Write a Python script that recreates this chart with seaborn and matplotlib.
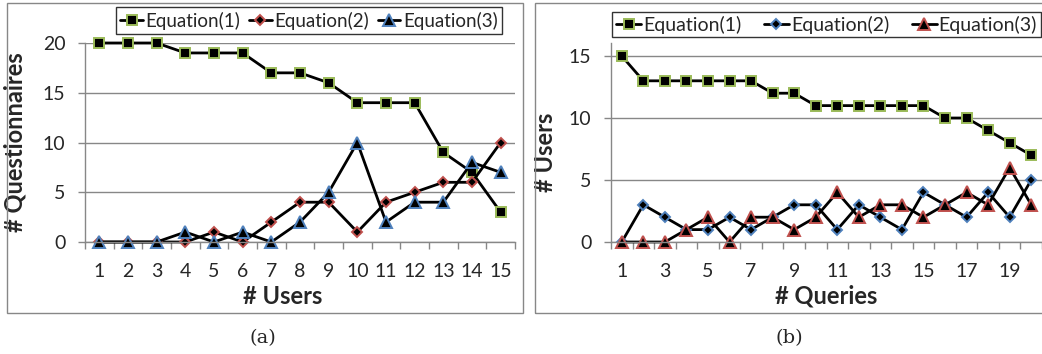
"""Two-panel line chart: questionnaires per user and users per query"""
import matplotlib
matplotlib.use("Agg")
import matplotlib.pyplot as plt
import seaborn as sns
from matplotlib.patches import Rectangle
from matplotlib.ticker import FixedLocator, NullFormatter

# panel (a)
users = list(range(1, 16))
a_eq1 = [20, 20, 20, 19, 19, 19, 17, 17, 16, 14, 14, 14, 9, 7, 3]
a_eq2 = [0, 0, 0, 0, 1, 0, 2, 4, 4, 1, 4, 5, 6, 6, 10]
a_eq3 = [0, 0, 0, 1, 0, 1, 0, 2, 5, 10, 2, 4, 4, 8, 7]

# panel (b)
queries = list(range(1, 21))
b_eq1 = [15, 13, 13, 13, 13, 13, 13, 12, 12, 11, 11, 11, 11, 11, 11, 10, 10, 9, 8, 7]
b_eq2 = [0, 3, 2, 1, 1, 2, 1, 2, 3, 3, 1, 3, 2, 1, 4, 3, 2, 4, 2, 5]
b_eq3 = [0, 0, 0, 1, 2, 0, 2, 2, 1, 2, 4, 2, 3, 3, 2, 3, 4, 3, 6, 3]

labels = ["Equation(1)", "Equation(2)", "Equation(3)"]

GREEN = "#9BBB59"
RED = "#C0504D"
BLUE = "#4F81BD"
GRID = "#878787"
FS = 14

sns.set_style("white")
plt.rcParams["font.family"] = ["Lato", "DejaVu Sans"]

W, H = 1042, 354
fig = plt.figure(figsize=(W / 100, H / 100), dpi=100)


def px_box(x0, y0, x1, y1):
    """pixel box (top-left origin) -> figure fraction rect"""
    return [x0 / W, 1 - y1 / H, (x1 - x0) / W, (y1 - y0) / H]


def draw_panel(ax, xs, series, styles, xlim, ylim, yticks, xtick_labels):
    handles = []
    for ys, (mk, ms, edge), lab in zip(series, styles, labels):
        sns.lineplot(x=xs, y=ys, ax=ax, color="black", linewidth=2,
                     marker=mk, markersize=ms, markerfacecolor="black",
                     markeredgecolor=edge, markeredgewidth=1.4,
                     label=lab, legend=False, clip_on=False)
        handles.append(ax.lines[-1])
    ax.set_xlim(*xlim)
    ax.set_ylim(*ylim)
    ax.set_yticks(yticks)
    ax.yaxis.grid(True, color=GRID, linewidth=1)
    ax.set_axisbelow(True)
    for side in ("top", "right"):
        ax.spines[side].set_visible(False)
    for side in ("left", "bottom"):
        ax.spines[side].set_color(GRID)
        ax.spines[side].set_linewidth(1)
    # labels at category centres, tick marks on the boundaries
    ax.set_xticks(xs)
    ax.set_xticklabels(xtick_labels)
    ax.tick_params(axis="x", which="major", length=0, pad=15, labelsize=FS)
    ax.xaxis.set_minor_locator(FixedLocator([x + 0.5 for x in [xs[0] - 1] + xs]))
    ax.xaxis.set_minor_formatter(NullFormatter())
    ax.tick_params(axis="x", which="minor", length=5, width=1, color=GRID,
                   direction="out", bottom=True)
    ax.tick_params(axis="y", length=5, width=1, color=GRID, pad=9,
                   labelsize=FS, left=True)
    return handles


marker_a = [("s", 7, GREEN), ("D", 5.5, RED), ("^", 8, BLUE)]
marker_b = [("s", 7, GREEN), ("D", 5.5, BLUE), ("^", 8, RED)]

ax_a = fig.add_axes(px_box(85, 43, 515, 242))
h_a = draw_panel(ax_a, users, [a_eq1, a_eq2, a_eq3], marker_a,
                 (0.5, 15.5), (0, 20), [0, 5, 10, 15, 20],
                 [str(u) for u in users])
ax_a.set_xlabel("# Users", fontsize=17, fontweight="bold")
ax_a.set_ylabel("# Questionnaires", fontsize=17, fontweight="bold")
ax_a.xaxis.set_label_coords(0.46, -0.215)
ax_a.yaxis.set_label_coords(-0.135, 0.5)

ax_b = fig.add_axes(px_box(611, 43, 1042, 242))
h_b = draw_panel(ax_b, queries, [b_eq1, b_eq2, b_eq3], marker_b,
                 (0.5, 20.5), (0, 16.05), [0, 5, 10, 15],
                 [str(q) if q % 2 else "" for q in queries])
ax_b.set_xlabel("# Queries", fontsize=17, fontweight="bold")
ax_b.set_ylabel("# Users", fontsize=17, fontweight="bold")
ax_b.xaxis.set_label_coords(0.5, -0.215)
ax_b.yaxis.set_label_coords(-0.125, 0.45)

# legend (a): compact box above the plot area
leg_a = ax_a.legend(h_a, labels, ncol=3, loc="center",
                    bbox_to_anchor=(309 / W, 1 - 20.5 / H),
                    bbox_transform=fig.transFigure,
                    fontsize=13.5, frameon=True, fancybox=False,
                    handlelength=1.2, handletextpad=0.15, borderaxespad=0,
                    borderpad=0.25, columnspacing=0.45)
# legend (b): wide box running to the right edge
leg_b = ax_b.legend(h_b, labels, ncol=3, mode="expand", loc="center",
                    bbox_to_anchor=(612 / W, 1 - 43 / H, 429 / W, 37 / H),
                    bbox_transform=fig.transFigure,
                    fontsize=FS, frameon=True, fancybox=False,
                    handlelength=1.3, handletextpad=0.1, borderaxespad=0,
                    borderpad=0.2, columnspacing=0.3)
for leg in (leg_a, leg_b):
    leg.get_frame().set_edgecolor("black")
    leg.get_frame().set_linewidth(1)

# outer chart frames
for x0, x1 in [(7, 523), (535, 1050)]:
    fig.patches.append(Rectangle((x0 / W, 1 - 313 / H), (x1 - x0) / W, 310 / H,
                                 transform=fig.transFigure, fill=False,
                                 edgecolor=GRID, linewidth=1))

for xc, cap in [(263, "(a)"), (789, "(b)")]:
    fig.text(xc / W, 1 - 338 / H, cap, ha="center", va="center",
             fontsize=14, family=["DejaVu Serif"])

fig.savefig("out.png", dpi=100)
